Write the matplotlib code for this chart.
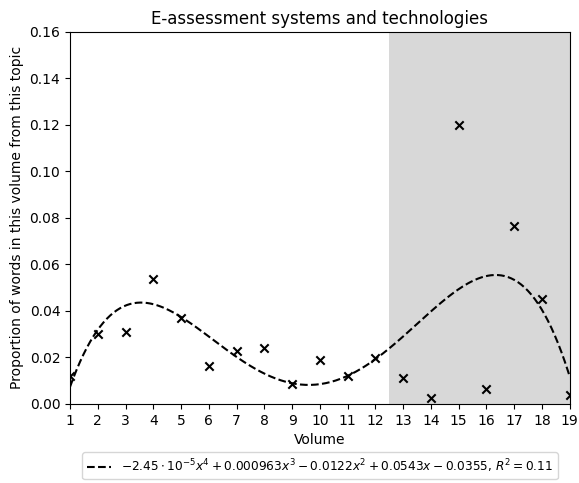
import numpy as np
import matplotlib
matplotlib.use('Agg')
import matplotlib.pyplot as plt

volumes = np.arange(1, 20)
proportions = np.array([0.0120, 0.0300, 0.0307, 0.0536, 0.0371, 0.0161, 0.0228, 0.0242, 0.0086,
                        0.0189, 0.0118, 0.0196, 0.0110, 0.0024, 0.1200, 0.0063, 0.0766, 0.0450, 0.0039])
fit_label = r'$-2.45\cdot10^{-5}x^4 + 0.000963x^3 - 0.0122x^2 + 0.0543x - 0.0355$, $R^2 = 0.11$'

# degree 4 fit through the points
coefs = np.polyfit(volumes, proportions, 4)
xs = np.linspace(1, 19, 300)

fig = plt.figure(figsize=(5.79, 4.83), dpi=100)
ax = fig.add_axes([0.121, 0.164, 0.863, 0.77])

ax.axvspan(12.5, 19, color='grey', alpha=0.3, lw=0)
ax.scatter(volumes, proportions, marker='x', color='k', s=36, zorder=3)
ax.plot(xs, np.polyval(coefs, xs), color='k', linestyle='--', linewidth=1.5, label=fit_label)

ax.set_xlim(1, 19)
ax.set_ylim(0, 0.16)
ax.set_xticks(volumes)
ax.set_xlabel('Volume')
ax.set_ylabel('Proportion of words in this volume from this topic')
ax.set_title('E-assessment systems and technologies')
ax.legend(loc='upper center', bbox_to_anchor=(0.5, -0.13), borderaxespad=0, fontsize=8.7)

plt.savefig('out.png', dpi=100)
